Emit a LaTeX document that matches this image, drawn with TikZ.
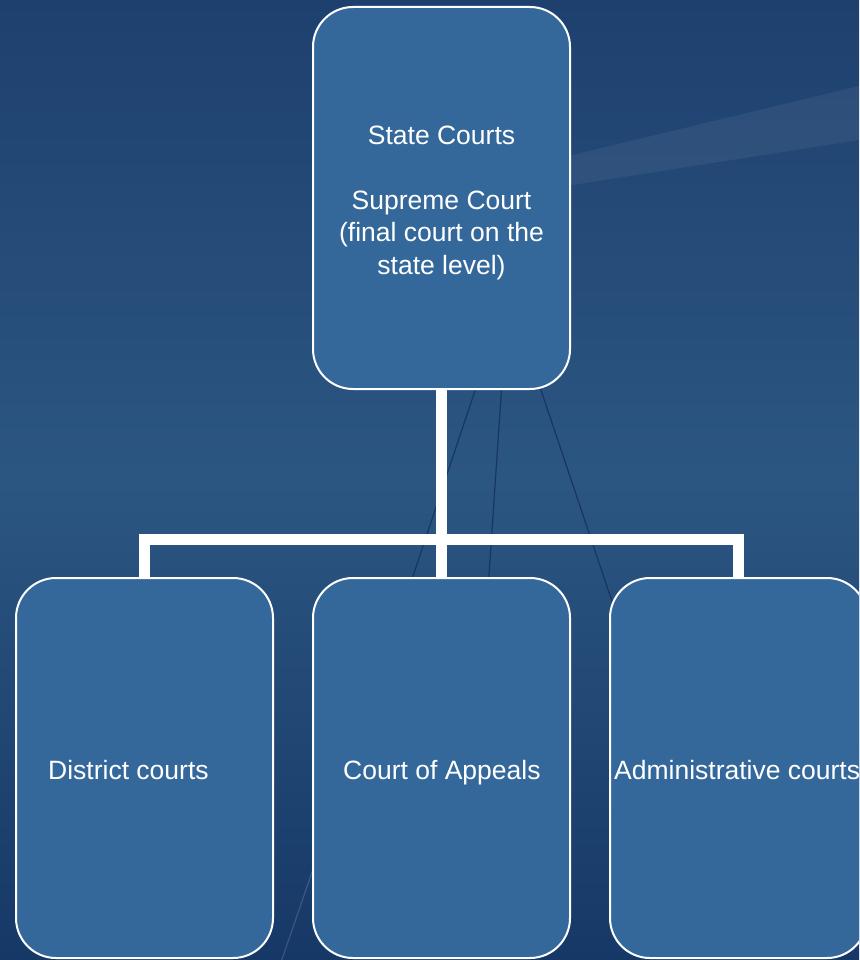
\documentclass[tikz,border=0pt]{standalone}
\usepackage{fontspec}
\setmainfont{Liberation Sans}
\definecolor{bgtop}{RGB}{30,64,111}
\definecolor{bgmid}{RGB}{44,86,130}
\definecolor{bgbot}{RGB}{22,56,103}
\definecolor{boxfill}{RGB}{53,104,154}
\definecolor{thinline}{RGB}{24,54,100}
\tikzset{
  courtbox/.style={draw=white, line width=2pt, fill=boxfill, rounded corners=40pt,
    minimum width=257pt, inner sep=0pt},
  courtlabel/.style={text=white, inner sep=0pt, align=center,
    font=\fontsize{26.5}{32.3}\selectfont},
  conn/.style={draw=white, line width=11pt}
}
\begin{document}
\begin{tikzpicture}[x=1pt,y=-1pt]
\useasboundingbox (0,0) rectangle (859,960);
\clip (0,0) rectangle (859,960);
% background
\shade[top color=bgtop, bottom color=bgbot, middle color=bgmid] (0,0) rectangle (859,960);
% light beam
\fill[white, opacity=0.055] (560,158) -- (859,86) -- (859,140) -- (560,187) -- cycle;
% thin decorative lines
\draw[thinline, line width=1.2pt] (508,292) -- (405,600);
\draw[thinline, line width=1.2pt] (508,292) -- (486,620);
\draw[thinline, line width=1.2pt] (508,292) -- (625,640);
\draw[white, opacity=0.15, line width=1.2pt] (330,820) -- (280,965);
% boxes
\node[courtbox, minimum height=382pt] (top) at (441.5,198) {};
\node[courtbox, minimum height=380pt] (L) at (144.5,768) {};
\node[courtbox, minimum height=380pt] (M) at (441.5,768) {};
\node[courtbox, minimum height=380pt] (R) at (738.5,768) {};
% labels
\node[courtlabel] (toptxt) at (441.5,203)
  {State Courts\\[32.3pt]Supreme Court\\(final court on the\\state level)};
\node[courtlabel, anchor=base west] (Ltxt) at (48,779) {District courts};
\node[courtlabel, anchor=base west] (Mtxt) at (343,779) {Court of Appeals};
\node[courtlabel, anchor=base west] (Rtxt) at (614,779) {Administrative courts};
% connectors
\coordinate (bus) at (441.5,539);
\draw[conn] (top.south) -- (M.north);
\draw[conn] (L.north) -- (L.north |- bus) -- (R.north |- bus) -- (R.north);
\end{tikzpicture}
\end{document}
